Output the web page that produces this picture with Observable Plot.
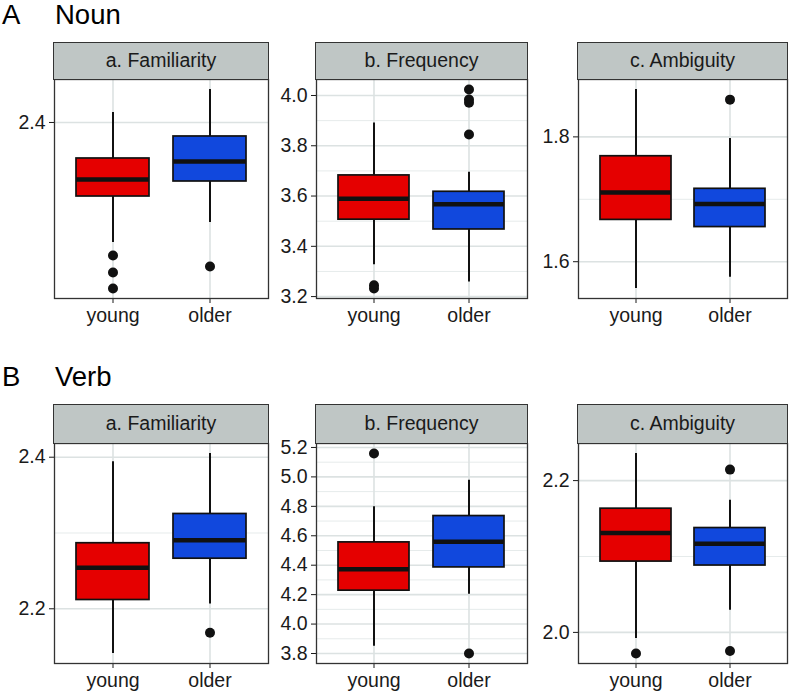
<!DOCTYPE html>
<html><head><meta charset="utf-8">
<script src="https://cdn.jsdelivr.net/npm/d3@7"></script>
<script src="https://cdn.jsdelivr.net/npm/@observablehq/plot@0.6"></script>
<style>
body{margin:0;background:#fff;font-family:"Liberation Sans",Arial,Helvetica,sans-serif;}
#root{position:relative;width:790px;height:695px;overflow:hidden;background:#fff}
.title{position:absolute;font-size:27.5px;line-height:28px;color:#000;white-space:nowrap}
.strip{position:absolute;background:#bfc6c5;border:1.3px solid #333;box-sizing:border-box;font-size:19.5px;color:#1a1a1a;display:flex;align-items:center;justify-content:center}
.panel{position:absolute}
</style></head><body><div id="root"></div>
<script>
const groups = ["young", "older"];
const groupColors = ["#e50000", "#1148dd"];
const facetTitles = ["a. Familiarity", "b. Frequency", "c. Ambiguity"];
const rowLetters = ["A", "B"];
const rowNames = ["Noun", "Verb"];
// [lower whisker, Q1, median, Q3, upper whisker] for young, older
const nounFamiliarity = [[2.340, 2.363, 2.3715, 2.382, 2.405], [2.350, 2.3705, 2.3805, 2.393, 2.4165]];
const nounFamiliarityOut = [[2.3335, 2.325, 2.317], [2.328]];
const nounFrequency = [[3.327, 3.506, 3.589, 3.682, 3.891], [3.258, 3.467, 3.567, 3.617, 3.695]];
const nounFrequencyOut = [[3.245, 3.232], [4.024, 3.984, 3.971, 3.845]];
const nounAmbiguity = [[1.557, 1.667, 1.711, 1.769, 1.876], [1.575, 1.6555, 1.6926, 1.7168, 1.7974]];
const nounAmbiguityOut = [[], [1.8597]];
const verbFamiliarity = [[2.141, 2.2116, 2.2541, 2.2865, 2.3939], [2.2062, 2.2661, 2.2905, 2.3251, 2.4049]];
const verbFamiliarityOut = [[], [2.1684]];
const verbFrequency = [[3.850, 4.227, 4.373, 4.555, 4.797], [4.203, 4.385, 4.559, 4.734, 4.977]];
const verbFrequencyOut = [[5.159], [3.80]];
const verbAmbiguity = [[1.9921, 2.0933, 2.1309, 2.163, 2.2357], [2.0291, 2.0881, 2.1168, 2.1375, 2.174]];
const verbAmbiguityOut = [[1.9722], [2.2145, 1.9755]];
const nounTicks = [[2.4], [3.2, 3.4, 3.6, 3.8, 4.0], [1.6, 1.8]];
const verbTicks = [[2.2, 2.4], [3.8, 4.0, 4.2, 4.4, 4.6, 4.8, 5.0, 5.2], [2.0, 2.2]];

const rows = [
  {stats: [nounFamiliarity, nounFrequency, nounAmbiguity], outs: [nounFamiliarityOut, nounFrequencyOut, nounAmbiguityOut], ticks: nounTicks},
  {stats: [verbFamiliarity, verbFrequency, verbAmbiguity], outs: [verbFamiliarityOut, verbFrequencyOut, verbAmbiguityOut], ticks: verbTicks}
];

// layout (pixels)
const colLeft = [54, 316, 578];
const colWidth = [214, 211, 209];
const rowTitleBaseline = [25, 387];
const stripTop = [42, 404];
const plotTop = [79, 443];
const plotBottom = [298, 663];
const ML = 54, MR = 2, MT = 1, MB = 36;

const root = document.getElementById("root");

function makePanel(stats, outs, ticks, W, H) {
  const boxes = groups.map((g, i) => ({group: g, lo: stats[i][0], q1: stats[i][1], med: stats[i][2], q3: stats[i][3], hi: stats[i][4]}));
  const points = groups.flatMap((g, i) => outs[i].map(v => ({group: g, value: v})));
  const all = [...boxes.flatMap(b => [b.lo, b.hi]), ...points.map(p => p.value)];
  const [mn, mx] = d3.extent(all);
  const pad = (mx - mn) * 0.05;
  const domain = [mn - pad, mx + pad];
  const minor = Array.from(new Set(ticks.flatMap(t => [+(t - 0.1).toFixed(2), +(t + 0.1).toFixed(2)])))
    .filter(v => v > domain[0] && v < domain[1] && !ticks.some(t => Math.abs(t - v) < 1e-9));
  return Plot.plot({
    width: W + ML + MR,
    height: H + MT + MB,
    marginLeft: ML, marginRight: MR, marginTop: MT, marginBottom: MB,
    style: {fontSize: "19.5px", fontFamily: '"Liberation Sans", Arial, Helvetica, sans-serif', color: "#1a1a1a", background: "transparent", overflow: "visible"},
    x: {type: "band", domain: groups, paddingInner: 0.25, paddingOuter: 0.225, tickSize: 5, tickPadding: 5, label: null},
    y: {domain, ticks, tickSize: 5, tickPadding: 4, label: null, tickFormat: d3.format(".1f")},
    color: {domain: groups, range: groupColors},
    marks: [
      Plot.ruleY(minor, {stroke: "#e6ebeb", strokeWidth: 1}),
      Plot.ruleY(ticks, {stroke: "#dce2e2", strokeWidth: 1.6}),
      Plot.ruleX(groups, {x: d => d, stroke: "#dce2e2", strokeWidth: 1.6}),
      Plot.ruleX(boxes, {x: "group", y1: "lo", y2: "hi", stroke: "#111", strokeWidth: 2}),
      Plot.barY(boxes, {x: "group", y1: "q1", y2: "q3", fill: "group", stroke: "#111", strokeWidth: 1.7}),
      Plot.tickY(boxes, {x: "group", y: "med", stroke: "#111", strokeWidth: 4.5}),
      Plot.dot(points, {x: "group", y: "value", r: 5, fill: "#111", stroke: "none"}),
      Plot.frame({stroke: "#333", strokeWidth: 1.3})
    ]
  });
}

rows.forEach((row, r) => {
  const letter = document.createElement("div");
  letter.className = "title";
  letter.textContent = rowLetters[r];
  letter.style.left = "2px";
  letter.style.top = (rowTitleBaseline[r] - 24) + "px";
  root.appendChild(letter);
  const name = document.createElement("div");
  name.className = "title";
  name.textContent = rowNames[r];
  name.style.left = "55px";
  name.style.top = (rowTitleBaseline[r] - 24) + "px";
  root.appendChild(name);

  for (let c = 0; c < 3; c++) {
    const H = plotBottom[r] - plotTop[r];
    const W = colWidth[c];
    const wrap = document.createElement("div");
    wrap.className = "panel";
    wrap.style.left = (colLeft[c] - ML) + "px";
    wrap.style.top = (plotTop[r] - MT) + "px";
    wrap.appendChild(makePanel(row.stats[c], row.outs[c], row.ticks[c], W, H));
    root.appendChild(wrap);

    const strip = document.createElement("div");
    strip.className = "strip";
    strip.textContent = facetTitles[c];
    strip.style.left = (colLeft[c] - 0.65) + "px";
    strip.style.top = stripTop[r] + "px";
    strip.style.width = (W + 1.3) + "px";
    strip.style.height = (plotTop[r] - stripTop[r] + 0.65) + "px";
    root.appendChild(strip);
  }
});
</script></body></html>
